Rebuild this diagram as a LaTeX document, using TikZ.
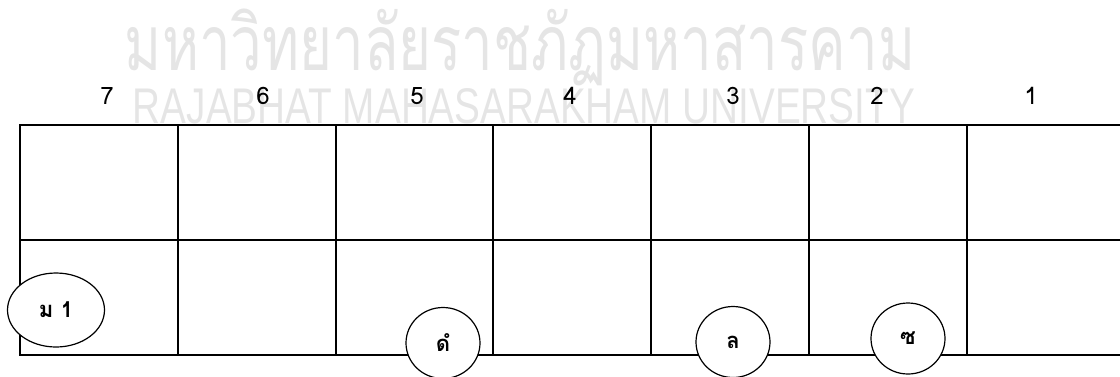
\documentclass[tikz,border=0pt]{standalone}
\usepackage{fontspec}
\usepackage{graphicx}
\newfontfamily\thaifont[Script=Thai]{Loma}
\newfontfamily\wmfont{Liberation Sans}
\usetikzlibrary{shapes.geometric}
\tikzset{
  cell/.style={draw, line width=2pt, minimum width=157.8pt, minimum height=115pt, inner sep=0pt},
  num/.style={font=\thaifont\fontsize{24}{24}\selectfont},
  bead/.style={draw, ellipse, fill=white, line width=1.2pt, inner sep=0pt, minimum width=74pt, minimum height=71pt, font=\thaifont\bfseries\fontsize{22}{22}\selectfont},
  wmark/.style={text=gray!20, inner sep=0pt}
}

\begin{document}
\begin{tikzpicture}[x=1pt, y=-1pt]
  \useasboundingbox (0,0) rectangle (1120,376);
  \node[wmark] (wthai) at (520,47) {\resizebox*{790pt}{77pt}{\thaifont มหาวิทยาลัยราชภัฏมหาสารคาม}};
  \node[wmark] (weng) at (524,106) {\resizebox{782pt}{35pt}{\wmfont RAJABHAT MAHASARAKHAM UNIVERSITY}};
  \node[cell] (t7) at (98.9,182.2) {};
  \node[cell] (t6) at (256.7,182.2) {};
  \node[cell] (t5) at (414.5,182.2) {};
  \node[cell] (t4) at (572.3,182.2) {};
  \node[cell] (t3) at (730.1,182.2) {};
  \node[cell] (t2) at (887.9,182.2) {};
  \node[cell] (t1) at (1045.7,182.2) {};
  \node[cell] (b7) at (98.9,297.2) {};
  \node[cell] (b6) at (256.7,297.2) {};
  \node[cell] (b5) at (414.5,297.2) {};
  \node[cell] (b4) at (572.3,297.2) {};
  \node[cell] (b3) at (730.1,297.2) {};
  \node[cell] (b2) at (887.9,297.2) {};
  \node[cell] (b1) at (1045.7,297.2) {};
  \node[num] (n7) at (107,96) {7};
  \node[num] (n6) at (263,96) {6};
  \node[num] (n5) at (417,96) {5};
  \node[num] (n4) at (570,96) {4};
  \node[num] (n3) at (733,96) {3};
  \node[num] (n2) at (877,96) {2};
  \node[num] (n1) at (1031,96) {1};
  \node[bead, minimum width=97pt, minimum height=74pt] (m1) at (56,310) {ม 1};
  \node[bead] (dam) at (443,343) {ดํ};
  \node[bead] (la) at (733,342) {ล};
  \node[bead] (so) at (908,338.5) {ซ};
\end{tikzpicture}
\end{document}
